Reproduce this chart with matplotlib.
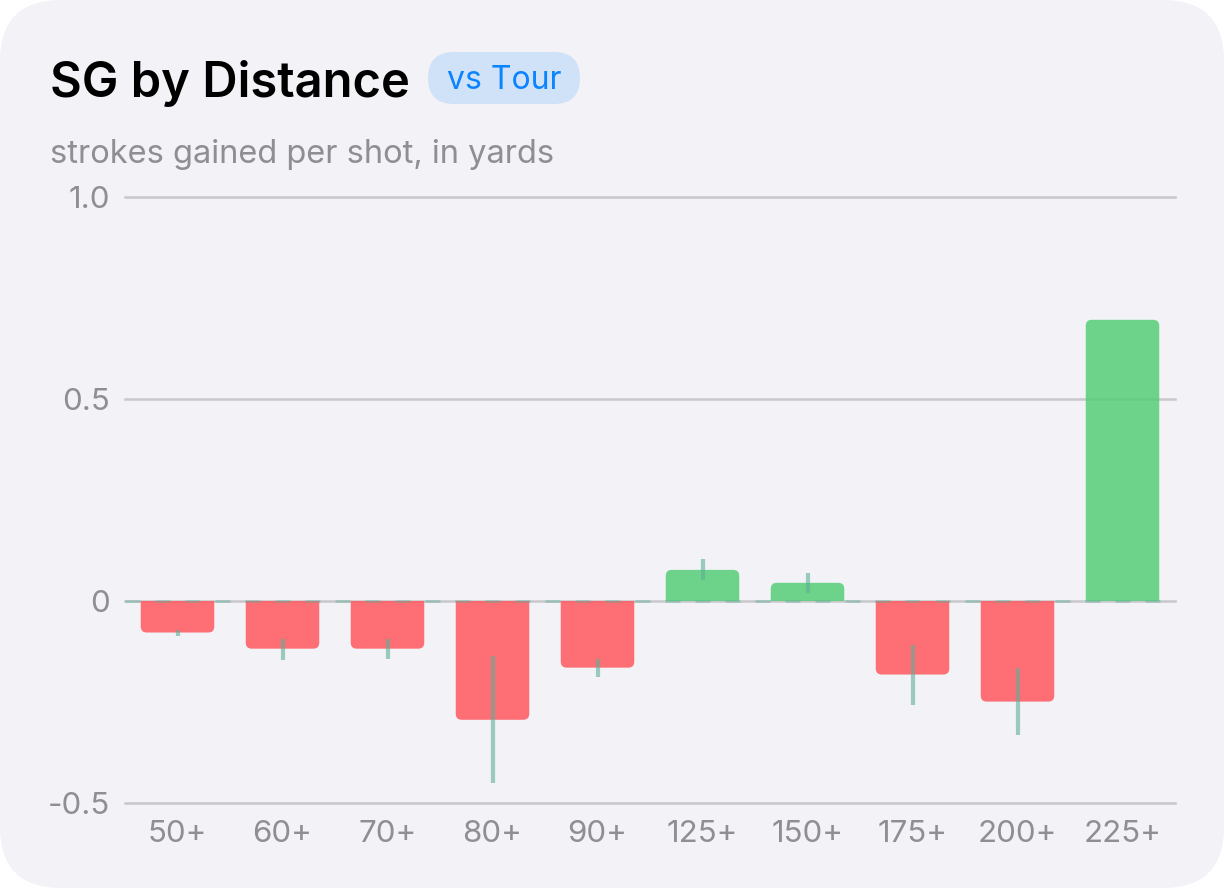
import matplotlib
matplotlib.use("Agg")
import matplotlib.pyplot as plt
from matplotlib.patches import FancyBboxPatch, Rectangle
import numpy as np

# data
labels = ["50+", "60+", "70+", "80+", "90+", "125+", "150+", "175+", "200+", "225+"]
sg = [-0.078, -0.118, -0.118, -0.294, -0.165, 0.077, 0.045, -0.182, -0.249, 0.696]
err_lo = [-0.087, -0.146, -0.144, -0.450, -0.188, 0.052, 0.020, -0.257, -0.332, None]
err_hi = [-0.072, -0.094, -0.094, -0.136, -0.144, 0.104, 0.069, -0.109, -0.166, None]
yticks = [-0.5, 0, 0.5, 1.0]
ytick_labels = ["-0.5", "0", "0.5", "1.0"]

BG = "#F2F2F7"
GRID = "#C7C7CC"
TXT = "#8E8E93"
RED = "#FF585E"
GREEN = "#56CE77"
ERR = "#5FAE97"

W, H = 1224, 888
plt.rcParams["font.family"] = ["Inter", "DejaVu Sans"]

fig = plt.figure(figsize=(W / 100, H / 100), dpi=100)
fig.patch.set_facecolor("white")

# rounded card, behind the axes
card = FancyBboxPatch((0, 0), 1, 1, boxstyle="round,pad=0,rounding_size=0.05",
                      mutation_aspect=W / H, transform=fig.transFigure,
                      facecolor=BG, edgecolor="none", zorder=-5)
fig.patches.append(card)


def fx(px):
    return px / W


def fy(py):
    return 1 - py / H


fig.text(fx(50), fy(97), "SG by Distance", fontsize=35.2, weight="semibold",
         color="black", va="baseline", ha="left")
pill = FancyBboxPatch((fx(428), fy(104)), fx(152), 52 / H,
                      boxstyle="round,pad=0,rounding_size=%f" % fx(26),
                      mutation_aspect=W / H, transform=fig.transFigure,
                      facecolor="#CFE2F7", edgecolor="none", zorder=1)
fig.patches.append(pill)
fig.text(fx(504), fy(89), "vs Tour", fontsize=23, color="#0A84FF",
         va="baseline", ha="center", zorder=2)
fig.text(fx(50), fy(163), "strokes gained per shot, in yards", fontsize=23.5,
         color=TXT, va="baseline", ha="left")

ax = fig.add_axes([fx(125), fy(803), fx(1050), 606 / H])
ax.set_facecolor("none")
ax.set_xlim(-0.5, len(labels) - 0.5)
ax.set_ylim(-0.5, 1.0)

for y in yticks:
    ax.axhline(y, color=GRID, lw=1.8, zorder=1, clip_on=False)
ax.axhline(0, color=ERR, lw=1.8, ls=(0, (6, 6)), alpha=0.45, zorder=4)

bw = 0.7
rad_x = 6 / 105
aspect = (6 / 404) / rad_x
for i, v in enumerate(sg):
    c = GREEN if v > 0 else RED
    sign = 1 if v > 0 else -1
    # rounded box running past zero, clipped at zero so only the far end is round
    lo, hi = sorted([v, -sign * 0.05])
    bar = FancyBboxPatch((i - bw / 2, lo), bw, hi - lo,
                         boxstyle="round,pad=0,rounding_size=%f" % rad_x,
                         mutation_aspect=aspect, facecolor=c, alpha=0.85,
                         edgecolor="none", zorder=2)
    ax.add_patch(bar)
    clip = Rectangle((i - bw, 0), 2 * bw, sign * 2, transform=ax.transData)
    bar.set_clip_path(clip)
    if err_lo[i] is not None:
        ax.vlines(i, err_lo[i], err_hi[i], color=ERR, lw=3, alpha=0.6, zorder=5)

ax.set_xticks(np.arange(len(labels)))
ax.set_xticklabels(labels)
ax.set_yticks(yticks)
ax.set_yticklabels(ytick_labels)
ax.tick_params(length=0, labelsize=22.5, colors=TXT)
ax.tick_params(axis="x", pad=12)
ax.tick_params(axis="y", pad=11)
for s in ax.spines.values():
    s.set_visible(False)

fig.savefig("out.png", dpi=100, facecolor=fig.get_facecolor())
